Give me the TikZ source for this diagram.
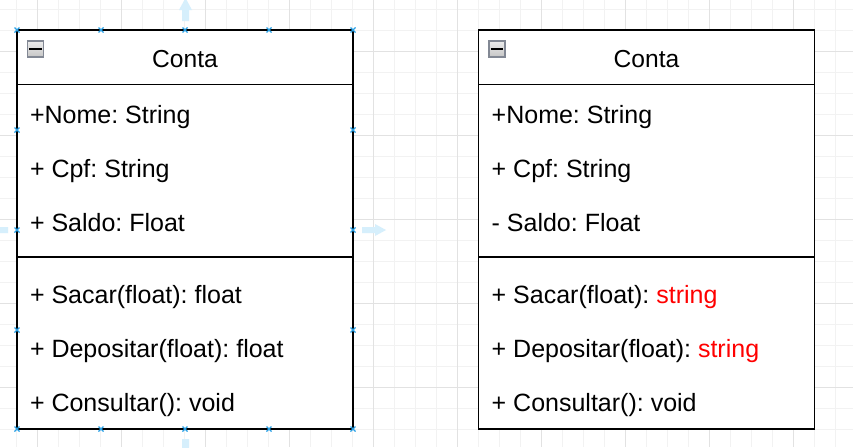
\documentclass[tikz,border=0pt]{standalone}
\usepackage{fontspec}
\setmainfont{Liberation Sans}
\definecolor{minorgrid}{RGB}{242,242,242}
\definecolor{majorgrid}{RGB}{226,226,226}
\definecolor{hovercol}{RGB}{214,239,252}
\definecolor{handlecol}{RGB}{41,160,230}
\definecolor{iconborder}{RGB}{130,136,148}
\definecolor{redtxt}{RGB}{255,0,0}
\frenchspacing
\begin{document}
\begin{tikzpicture}[x=1pt,y=-1pt,
  minorline/.style={draw=minorgrid,line width=0.9pt},
  majorline/.style={draw=majorgrid,line width=0.9pt},
  hover/.style={fill=hovercol},
  handle/.style={draw=handlecol,line width=1.1pt},
  classbox/.style={draw=black,line width=1.8pt,fill=white,inner sep=0pt,minimum width=336pt,minimum height=399pt},
  divider/.style={draw=black,line width=1.8pt},
  iconbox/.style={draw=iconborder,line width=1.4pt,top color=gray!15,bottom color=gray!45,inner sep=0pt,minimum size=16pt},
  minus/.style={draw=black,line width=2.2pt},
  txt/.style={font=\fontsize{25}{29}\selectfont,inner sep=0pt,anchor=base west},
  title/.style={font=\fontsize{24.6}{29}\selectfont,inner sep=0pt,anchor=base}]
\useasboundingbox (0,0) rectangle (853,447);
\clip (0,0) rectangle (853,447);
\fill[white] (0,0) rectangle (853,447);
% grid
\foreach \x in {16,37,...,853} \draw[minorline] (\x,0) -- (\x,447);
\foreach \y in {9,30,...,447} \draw[minorline] (0,\y) -- (853,\y);
\foreach \x in {37,121,...,853} \draw[majorline] (\x,0) -- (\x,447);
\foreach \y in {51,135,...,447} \draw[majorline] (0,\y) -- (853,\y);
% hover arrows
\fill[hover] (182,21) -- (182,10) -- (179,10) -- (185.5,-2) -- (192,10) -- (189,10) -- (189,21) -- cycle;
\fill[hover] (182,439) -- (182,450) -- (179,450) -- (185.5,462) -- (192,450) -- (189,450) -- (189,439) -- cycle;
\fill[hover] (362,227) -- (375,227) -- (375,224) -- (386,230) -- (375,236) -- (375,233) -- (362,233) -- cycle;
\fill[hover] (8,227) -- (-5,227) -- (-5,224) -- (-16,230) -- (-5,236) -- (-5,233) -- (8,233) -- cycle;
% left class
\node[classbox] (c1) at (185,229.5) {};
\draw[divider] (17,84.5) -- (353,84.5);
\draw[divider] (17,257) -- (353,257);
\node[iconbox] (i1) at (35.5,49) {};
\draw[minus] ([xshift=2.5pt]i1.west) -- ([xshift=-2.5pt]i1.east);
\node[title] (t1) at (185,67.7) {Conta};
\node[txt] (a11) at (29.8,123.5) {+Nome: String};
\node[txt] (a12) at (29.8,177.5) {+ Cpf: String};
\node[txt] (a13) at (29.8,231.7) {+ Saldo: Float};
\node[txt] (m11) at (29.8,303.5) {+ Sacar(float): float};
\node[txt] (m12) at (29.8,357.7) {+ Depositar(float): float};
\node[txt] (m13) at (29.8,411.7) {+ Consultar(): void};
% handles
\foreach \hx/\hy in {17/30,101/30,185/30,269/30,353/30,17/429,101/429,185/429,269/429,353/429,17/130,17/230,17/330,353/130,353/230,353/330}
  \draw[handle] (\hx-2.5,\hy-2.5) -- (\hx+2.5,\hy+2.5) (\hx-2.5,\hy+2.5) -- (\hx+2.5,\hy-2.5);
% right class
\node[classbox] (c2) at (646.5,229.5) {};
\draw[divider] (478.5,84.5) -- (814.5,84.5);
\draw[divider] (478.5,257) -- (814.5,257);
\node[iconbox] (i2) at (497,49) {};
\draw[minus] ([xshift=2.5pt]i2.west) -- ([xshift=-2.5pt]i2.east);
\node[title] (t2) at (646.5,67.7) {Conta};
\node[txt] (a21) at (491.5,123.5) {+Nome: String};
\node[txt] (a22) at (491.5,177.5) {+ Cpf: String};
\node[txt] (a23) at (491.5,231.7) {- Saldo: Float};
\node[txt] (m21) at (491.5,303.5) {+ Sacar(float): \textcolor{redtxt}{string}};
\node[txt] (m22) at (491.5,357.7) {+ Depositar(float): \textcolor{redtxt}{string}};
\node[txt] (m23) at (491.5,411.7) {+ Consultar(): void};
\end{tikzpicture}
\end{document}
